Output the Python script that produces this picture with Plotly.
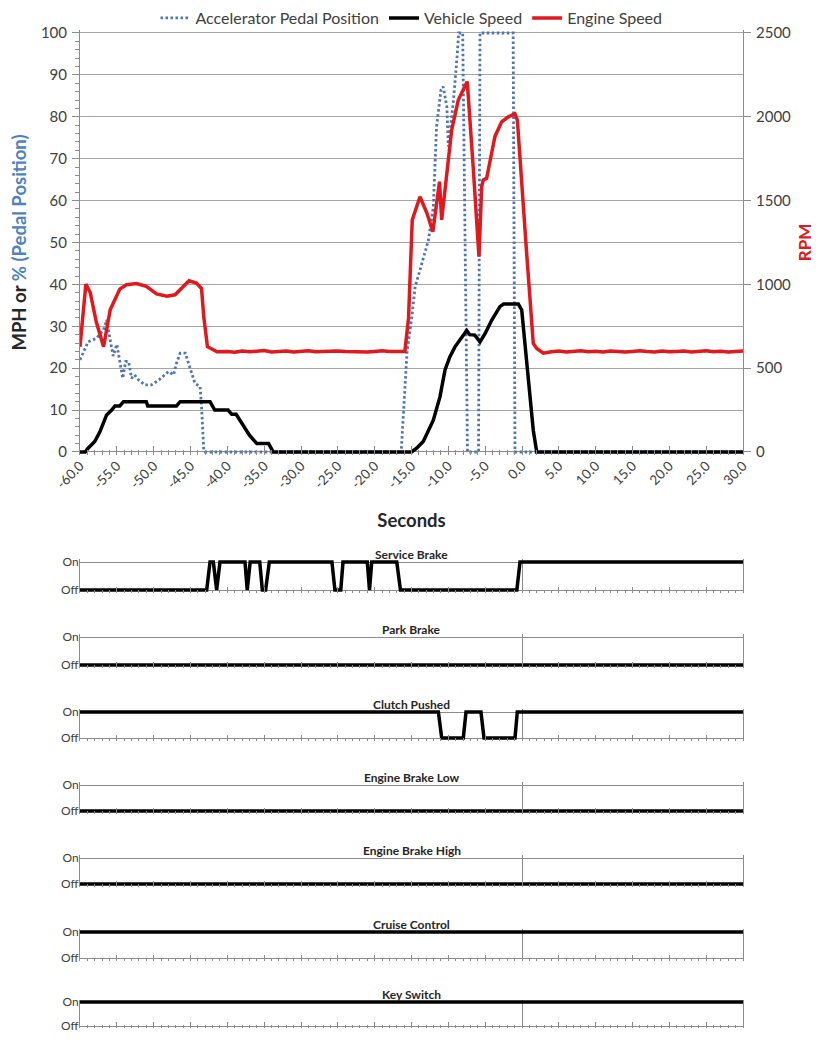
import plotly.graph_objects as go

# The page body adds an 8px margin, so the figure is drawn 8px smaller and
# every reference pixel position is shifted by OFF.
OFF = 8
W, H = 820 - OFF, 1042 - 2 * OFF

# ---------------- data ----------------
x_tick_vals = [-60, -55, -50, -45, -40, -35, -30, -25, -20, -15, -10, -5, 0, 5, 10, 15, 20, 25, 30]
x_tick_text = ["-60.0", "-55.0", "-50.0", "-45.0", "-40.0", "-35.0", "-30.0", "-25.0", "-20.0",
               "-15.0", "-10.0", "-5.0", "0.0", "5.0", "10.0", "15.0", "20.0", "25.0", "30.0"]

pedal_t = [-60, -58.9, -57.8, -56.8, -56.4, -55.9, -55.5, -55.0, -54.6, -54.2, -53.8, -53.4, -53.0,
           -52.6, -52.1, -51.2, -50.3, -49.2, -48.0, -47.3, -46.9, -46.4, -45.7, -45.1, -44.4, -43.7,
           -43.5, -43.2, -43.0, -16.4, -15.9, -15.6, -15.0, -14.5, -13.85, -12.7, -12.04, -11.6, -11.0,
           -10.7, -10.2, -10.0, -9.7, -9.3, -8.8, -8.6, -8.05, -7.5, -7.4, -5.9, -5.7, -1.2, -0.95,
           -0.8, 30]
pedal_pct = [22, 26.3, 27.1, 29.1, 31.5, 26.8, 22.9, 25.7, 22.0, 17.6, 21.6, 21.6, 17.6,
             18.4, 17.3, 16.0, 16.0, 17.3, 19.2, 18.4, 21.2, 23.6, 23.6, 20.4, 16.4, 15.6,
             10.8, 0.5, 0, 0, 15, 24, 31.5, 39.5, 43.4, 50.6, 58.5, 77.6, 86.4,
             87.2, 82.4, 72.9, 77.6, 84.0, 94.6, 100, 100, 0, 0, 0, 100, 100, 0,
             0, 0]

speed_t = [-60, -59.3, -58.9, -58.0, -57.3, -56.4, -55.7, -55.25, -54.6, -54.1, -51.0, -50.8,
           -46.9, -46.4, -42.35, -41.7, -39.9, -39.4, -38.8, -37.4, -37.0, -36.0, -34.4, -33.76,
           -15.0, -14.3, -13.4, -12.04, -11.13, -10.45, -9.8, -9.1, -8.2, -7.5, -7.1, -6.4, -5.7,
           -5.0, -4.1, -3.0, -2.5, -0.5, -0.04, 0.86, 1.53, 2.0, 30]
speed_mph = [0, 0, 0.9, 2.5, 4.8, 8.8, 10, 11, 11, 12, 12, 11,
             11, 12, 12, 10, 10, 9, 9, 5, 4, 2, 2, 0,
             0, 0.9, 2.5, 7.6, 13.2, 19.6, 22.7, 25.1, 27.5, 29.0, 28.0, 27.9, 26.3,
             28.3, 31.5, 34.7, 35.3, 35.3, 33.9, 18.0, 5.2, 0, 0]

engine_t = [-60, -59.2, -58.6, -57.8, -56.8, -55.9, -54.6, -53.7, -52.3, -51.0, -49.6, -48.2,
            -47.1, -46.2, -45.2, -44.2, -43.5, -43.2, -42.7, -41.4,
            -40, -39, -38, -37, -36, -35, -34, -33, -32, -31, -30, -29, -28, -27, -26, -25,
            -24, -23, -22, -21, -20, -19, -18, -17, -16,
            -15.9, -15.4, -14.9, -13.85, -12.9, -12.1, -11.7, -11.2, -10.9, -10.2, -9.55, -8.65,
            -8.0, -7.43, -6.6, -5.84, -5.47, -5.26, -4.8, -3.67, -2.76, -1.86, -0.95, -0.63,
            0.63, 1.3, 1.53, 2.0, 2.9,
            4, 5, 6, 7, 8, 9, 10, 11, 12, 13, 14, 15, 16, 17, 18, 19, 20, 21, 22, 23, 24, 25,
            26, 27, 28, 29, 30]
engine_rpm = [628, 1002, 950, 778, 628, 848, 972, 998, 1005, 988, 943, 930,
              938, 975, 1022, 1008, 975, 808, 628, 598,
              600, 595, 603, 598, 600, 605, 597, 600, 602, 596, 600, 604, 598, 600, 597, 603,
              600, 598, 601, 596, 600, 604, 599, 600, 597,
              600, 800, 1384, 1523, 1424, 1314, 1445, 1613, 1385, 1683, 1920, 2100,
              2160, 2210, 1683, 1165, 1583, 1623, 1633, 1883, 1970, 2000, 2017, 1980,
              1188, 788, 648, 618, 590,
              598, 602, 596, 600, 604, 598, 601, 597, 603, 600, 596, 600, 604, 599, 597, 602,
              598, 600, 603, 597, 600, 604, 598, 601, 596, 600, 602]

panel_names = ["Service Brake", "Park Brake", "Clutch Pushed", "Engine Brake Low",
               "Engine Brake High", "Cruise Control", "Key Switch"]
panel_t = [
    [-60, -42.8, -42.35, -41.9, -41.45, -41.0, -37.6, -37.3, -36.9, -35.6, -35.25, -34.8, -34.3,
     -25.8, -25.4, -24.6, -24.3, -21.0, -20.7, -20.4, -17.0, -16.5, -0.7, -0.27, 30],
    [-60, 30],
    [-60, -11.35, -10.9, -7.97, -7.6, -5.57, -5.16, -0.95, -0.64, 30],
    [-60, 30],
    [-60, 30],
    [-60, 30],
    [-60, 30],
]
panel_state = [
    [0, 0, 1, 1, 0, 1, 1, 0, 1, 1, 0, 0, 1, 1, 0, 0, 1, 1, 0, 1, 1, 0, 0, 1, 1],
    [0, 0],
    [1, 1, 0, 0, 1, 1, 0, 0, 1, 1],
    [0, 0],
    [0, 0],
    [1, 1],
    [1, 1],
]
state_vals = [0, 1]
state_text = ["Off", "On"]

# ---------------- style / layout ----------------
FONT = "Lato"
TXT = "#404040"
GRID = "#a6a6a6"
AXL = "#8c8c8c"
RED = "#e0191e"
BLUE = "#4f76b3"

# reference pixel positions (window coords) -> figure coords
X0, X1 = 80 - OFF, 743 - OFF
MT, MB = 28 - OFF, 0
MAIN_TOP, MAIN_BOT = 33, 452
YPAD = 0.6                       # small headroom so lines at 0 / 100 are not clipped
panel_px = [(562, 590), (637, 665), (712, 738), (785, 811), (858, 884), (932, 958), (1002, 1026)]
PH = H - MT - MB
pxu = (MAIN_BOT - MAIN_TOP) / 100.0


def py(p):
    return 1 - (p - OFF - MT) / PH


fig = go.Figure()
fig.add_trace(go.Scatter(x=pedal_t, y=pedal_pct, name="Accelerator Pedal Position", mode="lines",
                         line=dict(color=BLUE, width=2.8, dash="2.5px,2.5px"), xaxis="x", yaxis="y"))
fig.add_trace(go.Scatter(x=speed_t, y=speed_mph, name="Vehicle Speed", mode="lines",
                         line=dict(color="black", width=3.5), xaxis="x", yaxis="y"))
fig.add_trace(go.Scatter(x=engine_t, y=engine_rpm, name="Engine Speed", mode="lines",
                         line=dict(color=RED, width=3.5), xaxis="x", yaxis="y2"))

layout = dict(
    width=W, height=H, margin=dict(l=X0, r=W - X1, t=MT, b=MB, autoexpand=False),
    paper_bgcolor="white", plot_bgcolor="white",
    font=dict(family=FONT, color=TXT, size=14),
    showlegend=True,
    legend=dict(orientation="h", x=0.5, xanchor="center", y=py(18), yanchor="middle",
                bgcolor="rgba(0,0,0,0)",
                font=dict(size=16, color=TXT), itemwidth=30, tracegroupgap=0),
    xaxis=dict(domain=[0, 1], anchor="y", range=[-60, 30], tickmode="array", automargin=False,
               tickvals=x_tick_vals, ticktext=x_tick_text, tickangle=-45,
               tickfont=dict(size=13.5, color=TXT), ticks="inside", ticklen=9, tickcolor=AXL,
               minor=dict(dtick=1, tick0=0, ticks="inside", ticklen=5, tickcolor=AXL, showgrid=False),
               showline=False, showgrid=False, zeroline=False,
               title=dict(text="<b>Seconds</b>", font=dict(size=18.5, color="#262626"), standoff=23)),
    yaxis=dict(domain=[py(MAIN_BOT + YPAD * pxu), py(MAIN_TOP - YPAD * pxu)], anchor="x",
               range=[-YPAD, 100 + YPAD], tickmode="array", tickvals=list(range(0, 101, 10)),
               automargin=False,
               showgrid=True, gridcolor=GRID, gridwidth=1,
               zeroline=True, zerolinecolor=AXL, zerolinewidth=1,
               showline=True, linecolor=AXL, ticks="outside", ticklen=7, tickcolor=AXL,
               minor=dict(tickmode="array", tickvals=list(range(0, 101, 2)), ticks="outside",
                          ticklen=4, tickcolor=AXL, showgrid=False),
               tickfont=dict(size=15, color=TXT), ticklabelstandoff=2,
               title=dict(text="<b>MPH or <span style='color:#4f81bd'>% (Pedal Position)</span></b>",
                          font=dict(size=18.5, color="#262626"), standoff=11)),
    yaxis2=dict(overlaying="y", side="right", anchor="x", range=[-YPAD * 25, 2500 + YPAD * 25],
                tickmode="array", tickvals=[0, 500, 1000, 1500, 2000, 2500],
                automargin=False,
                showgrid=False, zeroline=False, showline=True, linecolor=AXL,
                ticks="outside", ticklen=7, tickcolor=AXL, tickfont=dict(size=15, color=TXT),
                ticklabelstandoff=2,
                title=dict(text="<b>RPM</b>", font=dict(size=17, color=RED), standoff=9)),
)

annotations = []
for i, name in enumerate(panel_names):
    xa = "x%d" % (i + 2)
    ya = "y%d" % (i + 3)
    yon, yoff = panel_px[i]
    span = yoff - yon
    pad = 0.1
    top = yon - pad * span
    bot = yoff + pad * span
    fig.add_trace(go.Scatter(x=panel_t[i], y=panel_state[i], mode="lines", showlegend=False,
                             name=name, line=dict(color="black", width=3.5), xaxis=xa, yaxis=ya))
    layout["xaxis%d" % (i + 2)] = dict(
        domain=[0, 1], anchor=ya, range=[-60, 30], dtick=5, tick0=0, showticklabels=False,
        automargin=False,
        ticks="inside", ticklen=6, tickcolor=AXL,
        minor=dict(dtick=1, tick0=0, ticks="inside", ticklen=3, tickcolor=AXL, showgrid=False),
        showline=False, showgrid=False, zeroline=True, zerolinecolor=AXL, zerolinewidth=1)
    layout["yaxis%d" % (i + 3)] = dict(
        domain=[max(py(bot), 0), py(top)], anchor=xa, range=[-pad, 1 + pad], tickmode="array",
        automargin=False, ticklabelstandoff=-2,
        tickvals=state_vals, ticktext=state_text, tickfont=dict(size=12, color=TXT),
        ticks="", showgrid=True, gridcolor=AXL, gridwidth=1, zeroline=False,
        showline=True, mirror=True, linecolor=AXL, linewidth=1)
    annotations.append(dict(text="<b>%s</b>" % name, xref="%s domain" % xa, yref="paper",
                            x=0.5, y=py(yon), xanchor="center", yanchor="bottom", showarrow=False,
                            yshift=-2, font=dict(size=12, color="#262626", family=FONT)))

layout["annotations"] = annotations
fig.update_layout(**layout)
fig.write_html("out.html")
